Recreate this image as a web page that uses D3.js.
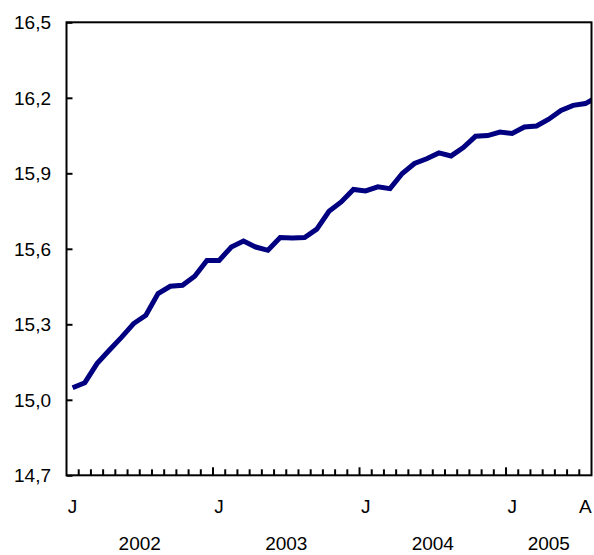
<!DOCTYPE html>
<html>
<head>
<meta charset="utf-8">
<script src="https://cdn.jsdelivr.net/npm/d3@7"></script>
<style>
  body { margin: 0; background: #fff; overflow: hidden; }
  svg { display: block; }
  text { font-family: "Liberation Sans", Arial, sans-serif; font-size: 19px; fill: #000; }
</style>
</head>
<body>
<script>
// monthly values, Jan 2002 onwards (last one runs past the right edge and is clipped)
var values = [15.048, 15.068, 15.144, 15.197, 15.248, 15.303, 15.336, 15.422, 15.451, 15.455,
              15.491, 15.554, 15.554, 15.607, 15.631, 15.607, 15.594, 15.645, 15.643, 15.645,
              15.678, 15.749, 15.786, 15.836, 15.830, 15.846, 15.839, 15.899, 15.939, 15.958,
              15.981, 15.969, 16.002, 16.047, 16.050, 16.064, 16.058, 16.084, 16.088, 16.115,
              16.150, 16.170, 16.177, 16.204];

// number of month slots on the category axis
var nMonths = 43;

// month letters shown under the axis (index -> letter)
var monthTickIdx = [0, 12, 24, 36, 42];
var monthTickText = ["J", "J", "J", "J", "A"];

// year labels and the month index where each year starts
var years = ["2002", "2003", "2004", "2005"];
var yearStart = [0, 12, 24, 36];

var yTicks = [14.7, 15.0, 15.3, 15.6, 15.9, 16.2, 16.5];

var svg_width = 594, svg_height = 555;
var margin = {top: 22.3, right: 2.5, bottom: 79.7, left: 66.5},
    width = svg_width - margin.left - margin.right,
    height = svg_height - margin.top - margin.bottom;

var fmt = d3.formatLocale({decimal: ",", thousands: ".", grouping: [3], currency: ["", ""]}).format(".1f");

var svg = d3.select("body").append("svg")
    .attr("width", svg_width)
    .attr("height", svg_height);
var g = svg.append("g").attr("transform", "translate(" + margin.left + "," + margin.top + ")");

// month i sits in the middle of slot [i-0.5, i+0.5]
var x = d3.scaleLinear().domain([-0.5, nMonths - 0.5]).range([0, width]);
var y = d3.scaleLinear().domain([14.7, 16.5]).range([height, 0]);

g.append("defs").append("clipPath")
    .attr("id", "clip")
    .append("rect")
    .attr("width", width)
    .attr("height", height);

//the line
var line = d3.line()
    .x(function(d, i) { return x(i); })
    .y(function(d) { return y(d); });

g.append("path")
    .datum(values)
    .attr("clip-path", "url(#clip)")
    .attr("d", line)
    .attr("fill", "none")
    .attr("stroke", "#000080")
    .attr("stroke-width", 5);

//y axis ticks point inwards
var yAxis = g.append("g")
    .call(d3.axisRight(y).tickValues(yTicks).tickSize(6).tickFormat(""));
yAxis.select(".domain").remove();
yAxis.selectAll("line").attr("stroke", "#000").attr("stroke-width", 2);

g.selectAll(".ylab")
    .data(yTicks)
    .enter().append("text")
    .attr("class", "ylab")
    .attr("x", -15.5)
    .attr("y", function(d) { return y(d); })
    .attr("dy", "0.36em")
    .attr("text-anchor", "end")
    .text(function(d) { return fmt(d); });

//x axis ticks at slot boundaries, taller at year starts
var bounds = d3.range(1, nMonths);
g.selectAll(".xtick")
    .data(bounds)
    .enter().append("line")
    .attr("class", "xtick")
    .attr("x1", function(d) { return x(d - 0.5); })
    .attr("x2", function(d) { return x(d - 0.5); })
    .attr("y1", height)
    .attr("y2", function(d) { return yearStart.indexOf(d) >= 0 ? height - 8 : height - 6; })
    .attr("stroke", "#000")
    .attr("stroke-width", 2);

g.selectAll(".mlab")
    .data(monthTickIdx)
    .enter().append("text")
    .attr("class", "mlab")
    .attr("x", function(d) { return x(d); })
    .attr("y", height + 38)
    .attr("text-anchor", "middle")
    .text(function(d, i) { return monthTickText[i]; });

g.selectAll(".yrlab")
    .data(years)
    .enter().append("text")
    .attr("class", "yrlab")
    .attr("x", function(d, i) {
        var s = yearStart[i], e = i + 1 < yearStart.length ? yearStart[i + 1] : nMonths;
        return (x(s - 0.5) + x(e - 0.5)) / 2;
    })
    .attr("y", height + 75)
    .attr("text-anchor", "middle")
    .text(function(d) { return d; });

//frame round the plot
g.append("rect")
    .attr("width", width)
    .attr("height", height)
    .attr("fill", "none")
    .attr("stroke", "#000")
    .attr("stroke-width", 2);
</script>
</body>
</html>
